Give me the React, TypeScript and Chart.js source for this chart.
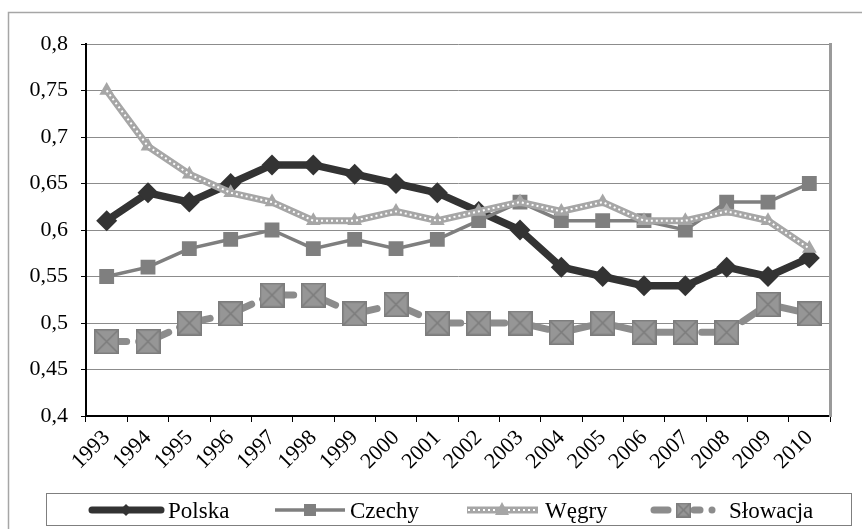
import { useEffect, useRef } from 'react';
import { Chart, registerables } from 'chart.js';
Chart.register(...registerables);

const YEARS = ['1993','1994','1995','1996','1997','1998','1999','2000','2001','2002','2003','2004','2005','2006','2007','2008','2009','2010'];
const POLSKA = [0.61,0.64,0.63,0.65,0.67,0.67,0.66,0.65,0.64,0.62,0.60,0.56,0.55,0.54,0.54,0.56,0.55,0.57];
const CZECHY = [0.55,0.56,0.58,0.59,0.60,0.58,0.59,0.58,0.59,0.61,0.63,0.61,0.61,0.61,0.60,0.63,0.63,0.65];
const WEGRY = [0.75,0.69,0.66,0.64,0.63,0.61,0.61,0.62,0.61,0.62,0.63,0.62,0.63,0.61,0.61,0.62,0.61,0.58];
const SLOWACJA = [0.48,0.48,0.50,0.51,0.53,0.53,0.51,0.52,0.50,0.50,0.50,0.49,0.50,0.49,0.49,0.49,0.52,0.51];
const Y_TICKS = [0.4,0.45,0.5,0.55,0.6,0.65,0.7,0.75,0.8];
const SERIES_NAMES = ['Polska','Czechy','Węgry','Słowacja'];

const FONT = '"Liberation Serif", "Times New Roman", serif';
const C_POL = '#333333';
const C_CZE = '#7f7f7f';
const C_WEG = '#a6a6a6';
const C_SLO = '#8c8c8c';
const SLO_DASH = [20, 12, 0.01, 12];

function makeXBox(size: number): HTMLCanvasElement {
  const c = document.createElement('canvas');
  c.width = size; c.height = size;
  const g = c.getContext('2d')!;
  g.fillStyle = '#969696';
  g.fillRect(0, 0, size, size);
  g.strokeStyle = '#7c7c7c';
  g.lineWidth = 1.5;
  g.strokeRect(0.75, 0.75, size - 1.5, size - 1.5);
  g.beginPath();
  g.moveTo(1.5, 1.5); g.lineTo(size - 1.5, size - 1.5);
  g.moveTo(size - 1.5, 1.5); g.lineTo(1.5, size - 1.5);
  g.stroke();
  return c;
}

function fmt(v: number) {
  const s = Number(v).toFixed(2).replace(/0$/, '');
  return s.replace('.', ',');
}

export default function App() {
  const ref = useRef<HTMLCanvasElement>(null);
  useEffect(() => {
    const canvas = ref.current!;
    const xbox = makeXBox(25);
    const xboxSmall = makeXBox(15);

    const decor = {
      id: 'decor',
      beforeDraw(chart: any) {
        const ctx = chart.ctx;
        ctx.save();
        ctx.fillStyle = '#fff';
        ctx.fillRect(0, 0, chart.width, chart.height);
        ctx.strokeStyle = '#a6a6a6';
        ctx.lineWidth = 1.5;
        ctx.beginPath();
        ctx.moveTo(8.5, 529); ctx.lineTo(8.5, 12.5); ctx.lineTo(862, 12.5);
        ctx.stroke();
        ctx.restore();
      },
      afterDraw(chart: any) {
        const ctx = chart.ctx;
        const a = chart.chartArea;
        ctx.save();
        ctx.strokeStyle = '#9a9a9a';
        ctx.lineWidth = 3;
        ctx.beginPath();
        ctx.moveTo(a.right + 0.5, a.top - 1); ctx.lineTo(a.right + 0.5, a.bottom + 1);
        ctx.stroke();

        ctx.strokeStyle = '#7f7f7f';
        ctx.lineWidth = 1;
        ctx.strokeRect(46.5, 493.5, 805, 32);
        const cy = 510;
        const base = 518;
        ctx.lineCap = 'round';
        ctx.strokeStyle = C_POL; ctx.lineWidth = 7;
        ctx.beginPath(); ctx.moveTo(92, cy); ctx.lineTo(161, cy); ctx.stroke();
        ctx.fillStyle = C_POL;
        ctx.beginPath(); ctx.moveTo(126, cy - 6); ctx.lineTo(132, cy); ctx.lineTo(126, cy + 6); ctx.lineTo(120, cy); ctx.closePath(); ctx.fill();
        ctx.lineCap = 'butt';
        ctx.strokeStyle = C_CZE; ctx.lineWidth = 3.5;
        ctx.beginPath(); ctx.moveTo(275, cy); ctx.lineTo(345, cy); ctx.stroke();
        ctx.fillStyle = C_CZE;
        ctx.fillRect(304, cy - 6, 12, 12);
        ctx.strokeStyle = C_WEG; ctx.lineWidth = 7;
        ctx.beginPath(); ctx.moveTo(467, cy); ctx.lineTo(538, cy); ctx.stroke();
        ctx.strokeStyle = '#ffffff'; ctx.lineWidth = 2; ctx.setLineDash([2, 3]);
        ctx.beginPath(); ctx.moveTo(468, cy); ctx.lineTo(537, cy); ctx.stroke();
        ctx.setLineDash([]);
        ctx.fillStyle = C_WEG;
        ctx.beginPath(); ctx.moveTo(502, cy - 8); ctx.lineTo(509, cy + 5); ctx.lineTo(495, cy + 5); ctx.closePath(); ctx.fill();
        ctx.lineCap = 'round';
        ctx.strokeStyle = C_SLO; ctx.lineWidth = 7;
        ctx.beginPath(); ctx.moveTo(654, cy); ctx.lineTo(668, cy); ctx.stroke();
        ctx.beginPath(); ctx.moveTo(694, cy); ctx.lineTo(700, cy); ctx.stroke();
        ctx.beginPath(); ctx.arc(712, cy, 3.5, 0, Math.PI * 2); ctx.fillStyle = C_SLO; ctx.fill();
        ctx.drawImage(xboxSmall, 676, cy - 7.5);
        ctx.fillStyle = '#000';
        ctx.font = '23px ' + FONT;
        ctx.textBaseline = 'alphabetic';
        ctx.textAlign = 'left';
        ctx.fillText(SERIES_NAMES[0], 168, base);
        ctx.fillText(SERIES_NAMES[1], 350, base);
        ctx.fillText(SERIES_NAMES[2], 545, base);
        ctx.fillText(SERIES_NAMES[3], 729, base);
        ctx.restore();
      },
    };

    const chart = new Chart(canvas, {
      type: 'line',
      data: {
        labels: YEARS,
        datasets: [
          {
            label: SERIES_NAMES[0], data: POLSKA, order: 4,
            borderColor: C_POL, backgroundColor: C_POL, borderWidth: 7.5,
            pointStyle: 'rectRot', pointRadius: 10.5, pointBorderWidth: 0,
            pointBackgroundColor: C_POL, borderJoinStyle: 'round', tension: 0,
          },
          {
            label: SERIES_NAMES[1], data: CZECHY, order: 3,
            borderColor: C_CZE, backgroundColor: C_CZE, borderWidth: 3.5,
            pointStyle: 'rect', pointRadius: 10.5, pointBorderWidth: 0,
            pointBackgroundColor: C_CZE, tension: 0,
          },
          {
            label: SERIES_NAMES[2], data: WEGRY, order: 2,
            borderColor: C_WEG, backgroundColor: C_WEG, borderWidth: 7,
            pointStyle: 'triangle', pointRadius: 8.5, pointBorderWidth: 0,
            pointBackgroundColor: C_WEG, borderJoinStyle: 'round', tension: 0,
          },
          {
            label: 'dots', data: WEGRY, order: 1.5,
            borderColor: '#ffffff', borderWidth: 2, borderDash: [2, 3],
            pointRadius: 0, tension: 0,
          },
          {
            label: SERIES_NAMES[3], data: SLOWACJA, order: 1,
            borderColor: C_SLO, backgroundColor: C_SLO, borderWidth: 7,
            borderDash: SLO_DASH, borderCapStyle: 'round',
            pointStyle: xbox, pointRadius: 12, tension: 0,
          },
        ],
      },
      options: {
        responsive: false,
        animation: false,
        devicePixelRatio: 1,
        layout: { padding: { left: 0, top: 44, right: 32, bottom: 0 } },
        plugins: { legend: { display: false }, tooltip: { enabled: false } },
        events: [],
        scales: {
          x: {
            offset: true,
            grid: { offset: true, drawOnChartArea: false, drawTicks: true, tickLength: 6, tickColor: '#000', tickWidth: 1 },
            border: { color: '#000', width: 2 },
            ticks: { minRotation: 45, maxRotation: 45, autoSkip: false, padding: 3, color: '#000', font: { family: FONT, size: 22 } },
            afterFit: (s: any) => { s.height = 113; },
          },
          y: {
            min: 0.4, max: 0.8,
            afterBuildTicks: (s: any) => { s.ticks = Y_TICKS.map((v) => ({ value: v })); },
            grid: { color: '#8c8c8c', lineWidth: 1, tickLength: 5, tickColor: '#000', tickWidth: 1 },
            border: { color: '#000', width: 2 },
            ticks: { padding: 13, color: '#000', font: { family: FONT, size: 22 }, callback: (v: any) => fmt(Number(v)) },
            afterFit: (s: any) => { s.width = 86; },
          },
        },
      },
      plugins: [decor],
    } as any);
    return () => chart.destroy();
  }, []);
  return (
    <div style={{ position: 'absolute', left: 0, top: 0, width: 862, height: 529, background: '#fff' }}>
      <canvas ref={ref} width={862} height={529} style={{ display: 'block', width: 862, height: 529 }} />
    </div>
  );
}
